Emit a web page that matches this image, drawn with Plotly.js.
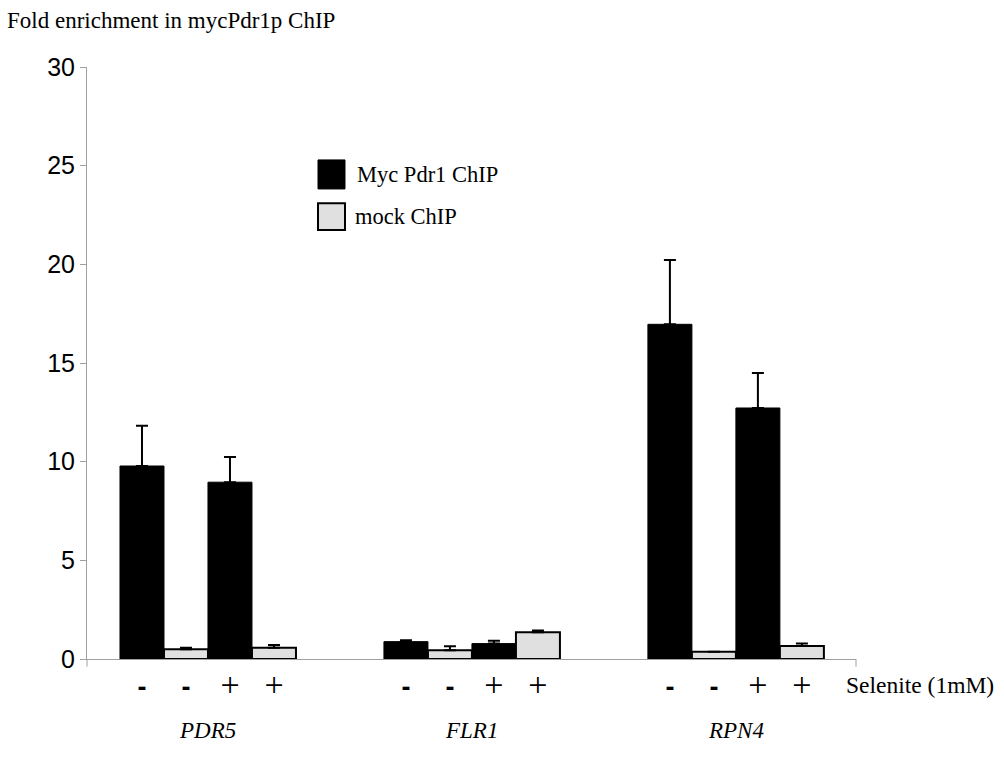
<!DOCTYPE html>
<html>
<head>
<meta charset="utf-8">
<script src="https://cdn.plot.ly/plotly-3.0.1.min.js"></script>
<style>html,body{margin:0;padding:0;background:#fff;}#chart{width:1004px;height:760px;}</style>
</head>
<body>
<div id="chart"></div>
<script>
// ---- data ----
const genes = ['PDR5', 'FLR1', 'RPN4'];
const selenite = ['-', '+'];
const seriesNames = ['Myc Pdr1 ChIP', 'mock ChIP'];
// order: PDR5 -, PDR5 +, FLR1 -, FLR1 +, RPN4 -, RPN4 +
const mycValues = [9.78, 8.96, 0.88, 0.78, 16.96, 12.72];
const mycErrors = [2.04, 1.28, 0.07, 0.15, 3.26, 1.77];
const mockValues = [0.49, 0.57, 0.44, 1.35, 0.37, 0.66];
const mockErrors = [0.08, 0.14, 0.20, 0.10, 0.0, 0.12];
const yTicks = [0, 5, 10, 15, 20, 25, 30];
const xLabel = 'Selenite (1mM)';
const yTitle = 'Fold enrichment in mycPdr1p ChIP';

// ---- layout helpers ----
const groupPitch = 6;
function pos(g, s, k) { return g * groupPitch + s * 2 + k; }
const xs = [[], []];
const tickvals = [], ticktext = [];
genes.forEach((g, gi) => selenite.forEach((s, si) => {
  xs[0].push(pos(gi, si, 0));
  xs[1].push(pos(gi, si, 1));
}));
genes.forEach((g, gi) => selenite.forEach((s, si) => {
  [0, 1].forEach(k => {
    tickvals.push(pos(gi, si, k));
    ticktext.push(s === '-' ? '<b>-</b>' : '<span style="font-family:\'Liberation Serif\';font-size:34px">+</span>');
  });
}));

const colors = ['#000000', '#e0e0e0'];
const traces = [
  {type: 'bar', x: xs[0], y: mycValues, width: 1, name: seriesNames[0],
   marker: {color: colors[0], line: {color: '#000', width: 1}},
   error_y: {type: 'data', array: mycErrors, symmetric: false, arrayminus: mycValues.map(() => 0), color: '#000', thickness: 2, width: 6}},
  {type: 'bar', x: xs[1], y: mockValues, width: 1, name: seriesNames[1],
   marker: {color: colors[1], line: {color: '#000', width: 2}},
   error_y: {type: 'data', array: mockErrors, symmetric: false, arrayminus: mockValues.map(() => 0), color: '#000', thickness: 2, width: 6}}
];

const serif = "'Liberation Serif', 'Times New Roman', serif";
const sans = "'Liberation Sans', Arial, sans-serif";

const annotations = [];
genes.forEach((g, gi) => {
  const center = (pos(gi, 0, 0) + pos(gi, 1, 1)) / 2;
  annotations.push({x: center, xref: 'x', y: -0.12, yref: 'paper', text: '<i>' + g + '</i>',
    showarrow: false, font: {family: serif, size: 23, color: '#000'}, xanchor: 'center', yanchor: 'middle'});
});
annotations.push({x: 0.985, xref: 'paper', y: -0.044, yref: 'paper', text: xLabel, showarrow: false,
  xanchor: 'left', yanchor: 'middle', font: {family: serif, size: 23.5, color: '#000'}});
// legend
const legY = [0.818, 0.747];
const legTextX = [0.3485, 0.346];
seriesNames.forEach((n, i) => {
  annotations.push({x: legTextX[i], xref: 'paper', y: legY[i], yref: 'paper', text: n, showarrow: false,
    xanchor: 'left', yanchor: 'middle', font: {family: serif, size: 22.5, color: '#000'}});
});
const shapes = [
  {type: 'rect', xref: 'paper', yref: 'paper', x0: 0.3004, x1: 0.3355, y0: 0.794, y1: 0.843,
   fillcolor: colors[0], line: {color: '#000', width: 1}},
  {type: 'rect', xref: 'paper', yref: 'paper', x0: 0.3004, x1: 0.3355, y0: 0.7247, y1: 0.770,
   fillcolor: colors[1], line: {color: '#000', width: 2}},
  {type: 'line', xref: 'paper', yref: 'paper', x0: 1, x1: 1, y0: 0, y1: -0.013, line: {color: '#a0a0a0', width: 1}},
  {type: 'line', xref: 'paper', yref: 'paper', x0: 0, x1: 0, y0: 0, y1: -0.013, line: {color: '#a0a0a0', width: 1}}
];

const layout = {
  width: 1004, height: 760,
  margin: {l: 87, r: 148, t: 67, b: 101},
  paper_bgcolor: '#fff', plot_bgcolor: '#fff',
  showlegend: false,
  barmode: 'overlay',
  title: {text: yTitle, x: 0.007, xanchor: 'left', xref: 'container', y: 0.974, yanchor: 'middle', yref: 'container',
    font: {family: serif, size: 23, color: '#000'}},
  xaxis: {range: [-1.25, 16.23], tickvals: tickvals, ticktext: ticktext, ticks: '',
    showline: true, linecolor: '#a0a0a0', linewidth: 1, showgrid: false, zeroline: false,
    tickfont: {family: sans, size: 27, color: '#000'}, ticklabelstandoff: 4, fixedrange: true},
  yaxis: {range: [0, 30], tickvals: yTicks, ticks: 'outside', ticklen: 6, tickcolor: '#a0a0a0', tickwidth: 1,
    showline: true, linecolor: '#a0a0a0', linewidth: 1, showgrid: false, zeroline: false,
    tickfont: {family: sans, size: 25, color: '#000'}, fixedrange: true},
  annotations: annotations,
  shapes: shapes
};

Plotly.newPlot('chart', traces, layout, {displayModeBar: false, staticPlot: true});
</script>
</body>
</html>
